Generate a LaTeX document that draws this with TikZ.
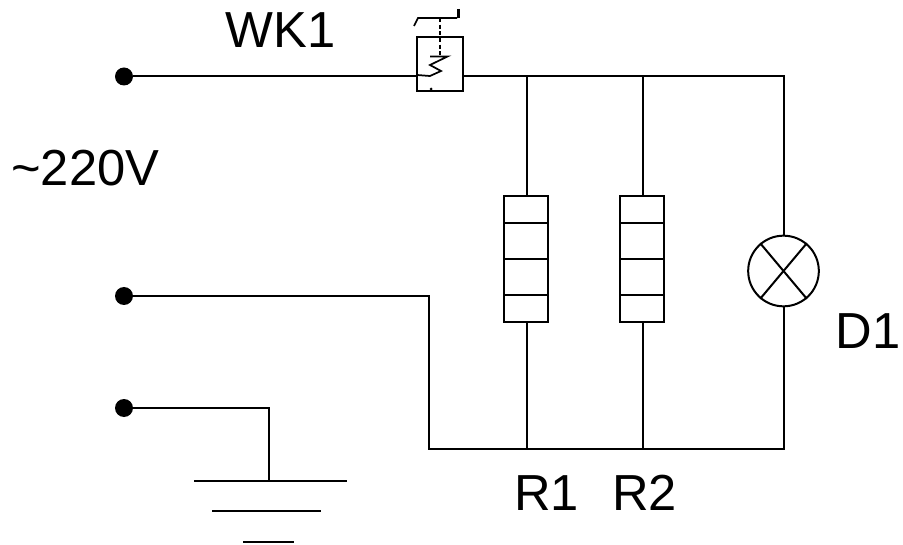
\documentclass[tikz,border=0pt]{standalone}
\usepackage{fontspec}
\setmainfont{Liberation Sans}
\tikzset{
  wire/.style={line width=1.5pt,black},
  thin wire/.style={line width=1.3pt,black},
  terminal/.style={circle,fill=black,inner sep=0pt,minimum size=13.5pt},
  label/.style={inner sep=0pt,font=\fontsize{38}{40}\selectfont,anchor=base west},
  heater/.style={draw,line width=1.5pt,fill=white,minimum width=33pt,minimum height=95pt,inner sep=0pt},
}
\begin{document}
\begin{tikzpicture}[x=0.75pt,y=-0.75pt]
\useasboundingbox (0,0) rectangle (903,545);
% terminals
\node[terminal] (t1) at (124,76.5) {};
\node[terminal] (t2) at (124,296) {};
\node[terminal] (t3) at (124,408) {};
% junctions
\coordinate (swl) at (417,76.5);
\coordinate (swr) at (463,76.5);
\coordinate (j1) at (527,76.5);
\coordinate (j2) at (643,76.5);
\coordinate (j3) at (784,76.5);
\coordinate (b0) at (428.5,448.5);
\coordinate (b1) at (527,448.5);
\coordinate (b2) at (643,448.5);
\coordinate (b3) at (784,448.5);
\coordinate (c0) at (428.5,296);
\coordinate (g0) at (269,408);
\coordinate (g1) at (269,480);
% wires
\draw[wire] (t1) -- (swl);
\draw[wire] (swr) -- (j3) -- (b3) -- (b0) -- (c0) -- (t2.center);
\draw[wire] (t3.center) -- (g0) -- (g1);
\draw[wire] (j1) -- (b1);
\draw[wire] (j2) -- (b2);
% ground
\draw[wire] (194,480.5) -- (347,480.5);
\draw[wire] (212,511) -- (321,511);
\draw[wire] (243,542) -- (294,542);
% heaters
\node[heater] (r1) at (526,259) {};
\node[heater] (r2) at (642,259) {};
\foreach \n/\x in {r1/526,r2/642}{
  \draw[wire] (\x-22,223.5) -- (\x+22,223.5);
  \draw[wire] (\x-22,259.5) -- (\x+22,259.5);
  \draw[wire] (\x-22,295.5) -- (\x+22,295.5);
}
% lamp
\node[draw,circle,line width=1.5pt,fill=white,minimum size=53pt,inner sep=0pt] (d1) at (783.5,271) {};
\draw[wire] (d1.50) -- (d1.230);
\draw[wire] (d1.130) -- (d1.-50);
% thermostat
\node[draw,line width=1.5pt,minimum width=34pt,minimum height=40pt,inner sep=0pt] (wk) at (440,64) {};
\draw[thin wire] (414,26) -- (418,18) -- (457,18);
\draw[line width=1.6pt] (458.5,9) -- (458.5,18);
\draw[thin wire,dash pattern=on 3pt off 2pt] (440,18) -- (440,56);
\draw[thin wire] (430,56.5) -- (447.5,56.5) -- (430,65) -- (441,71) -- (430,76) -- (417,75);
\fill (431,89) circle[radius=1.5];
% labels
\node[label] (lwk) at (225.5,48) {WK1};
\node[label] (lv) at (11,186) {\char`\~220V};
\node[label] (ld) at (835.5,349) {D1};
\node[label] (lr1) at (514,510) {R1};
\node[label] (lr2) at (612,510) {R2};
\end{tikzpicture}
\end{document}
